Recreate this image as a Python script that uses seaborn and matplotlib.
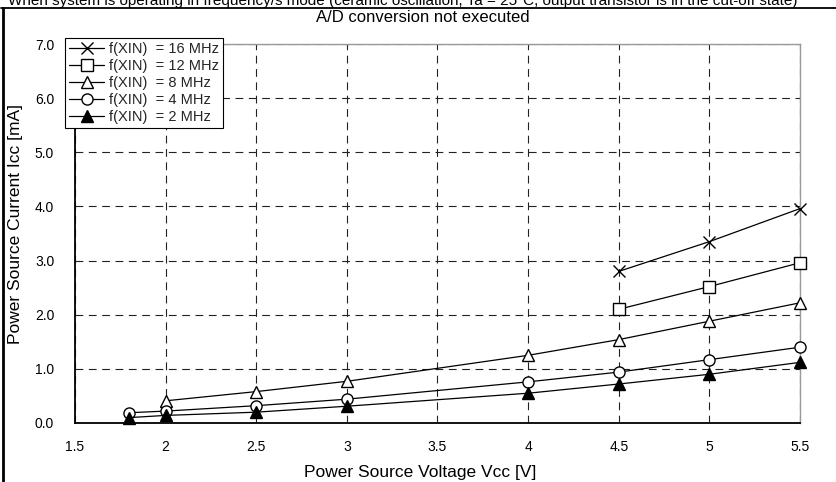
import matplotlib
matplotlib.use("Agg")
import matplotlib.pyplot as plt
import seaborn as sns
import pandas as pd
from matplotlib.lines import Line2D

# ---- data ----
vcc_16 = [4.5, 5.0, 5.5]
icc_16 = [2.80, 3.35, 3.96]
vcc_12 = [4.5, 5.0, 5.5]
icc_12 = [2.10, 2.52, 2.96]
vcc_8 = [2.0, 2.5, 3.0, 4.0, 4.5, 5.0, 5.5]
icc_8 = [0.41, 0.58, 0.77, 1.25, 1.54, 1.88, 2.22]
vcc_4 = [1.8, 2.0, 2.5, 3.0, 4.0, 4.5, 5.0, 5.5]
icc_4 = [0.19, 0.22, 0.32, 0.44, 0.76, 0.94, 1.17, 1.40]
vcc_2 = [1.8, 2.0, 2.5, 3.0, 4.0, 4.5, 5.0, 5.5]
icc_2 = [0.10, 0.14, 0.20, 0.31, 0.55, 0.72, 0.90, 1.12]
labels = ["f(XIN)  = 16 MHz", "f(XIN)  = 12 MHz", "f(XIN)  = 8 MHz",
          "f(XIN)  = 4 MHz", "f(XIN)  = 2 MHz"]
xticks = [1.5, 2, 2.5, 3, 3.5, 4, 4.5, 5, 5.5]
xticklabels = ["1.5", "2", "2.5", "3", "3.5", "4", "4.5", "5", "5.5"]
yticks = [0, 1, 2, 3, 4, 5, 6, 7]
yticklabels = ["0.0", "1.0", "2.0", "3.0", "4.0", "5.0", "6.0", "7.0"]

sns.set_theme(style="white")
plt.rcParams['font.family'] = ['Liberation Sans', 'DejaVu Sans']

W, H = 837, 482
fig = plt.figure(figsize=(W / 100, H / 100), dpi=100)
x0, x1, ytop, ybot = 75, 800, 44, 423
ax = fig.add_axes([x0 / W, 1 - ybot / H, (x1 - x0) / W, (ybot - ytop) / H])

series = [
    (vcc_16, icc_16, labels[0], dict(marker='x', mfc='black', ms=8, mew=1.0)),
    (vcc_12, icc_12, labels[1], dict(marker='s', mfc='white', ms=8, mew=1.0)),
    (vcc_8, icc_8, labels[2], dict(marker='^', mfc='white', ms=8.5, mew=1.0)),
    (vcc_4, icc_4, labels[3], dict(marker='o', mfc='white', ms=8, mew=1.0)),
    (vcc_2, icc_2, labels[4], dict(marker='^', mfc='black', ms=8.5, mew=1.0)),
]
handles = []
for xs, ys, lab, mk in series:
    df = pd.DataFrame({"Vcc": xs, "Icc": ys})
    sns.lineplot(data=df, x="Vcc", y="Icc", ax=ax, color='black', lw=0.9,
                 mec='black', zorder=3, clip_on=False, **mk)
    handles.append(Line2D([], [], color='black', lw=0.9, mec='black', **mk))

ax.set_xlim(1.5, 5.5)
ax.set_ylim(0, 7)
ax.set_xticks(xticks)
ax.set_xticklabels(xticklabels)
ax.set_yticks(yticks)
ax.set_yticklabels(yticklabels)
ax.tick_params(axis='both', length=0, labelsize=10, colors='black')
ax.tick_params(axis='x', pad=12)
ax.tick_params(axis='y', pad=15)
ax.grid(True, color='#222222', linestyle=(0, (7, 5)), linewidth=0.8)
ax.set_axisbelow(True)
for s in ['left', 'bottom']:
    ax.spines[s].set_color('black')
    ax.spines[s].set_linewidth(1.3)
for s in ['top', 'right']:
    ax.spines[s].set_color('#999999')
    ax.spines[s].set_linewidth(1.0)

ax.set_xlabel("Power Source Voltage Vcc [V]", fontsize=12.5, color='black')
ax.set_ylabel("Power Source Current Icc [mA]", fontsize=12.5, color='black')
ax.xaxis.label.set_va('center')
ax.xaxis.label.set_ha('center')
ax.yaxis.label.set_va('center')
ax.yaxis.label.set_ha('center')
ax.xaxis.set_label_coords((420 - x0) / (x1 - x0), (ybot - 472) / (ybot - ytop))
ax.yaxis.set_label_coords((16 - x0) / (x1 - x0), (ybot - 224) / (ybot - ytop))

leg = fig.legend(handles, labels, loc='upper left',
                 bbox_to_anchor=(65 / W, 1 - 38 / H), bbox_transform=fig.transFigure,
                 fontsize=10.5, frameon=True, fancybox=False, borderaxespad=0,
                 handlelength=2.4, handletextpad=0.3, labelspacing=0.2,
                 borderpad=0.3)
leg.get_frame().set_edgecolor('black')
leg.get_frame().set_linewidth(0.8)
leg.get_frame().set_facecolor('white')
leg.get_frame().set_alpha(1)

# header texts
fig.text(8 / W, 1 - 5 / H,
         "When system is operating in frequency/s mode (ceramic oscillation, Ta = 25°C, output transistor is in the cut-off state)",
         ha='left', va='baseline', fontsize=11, color='black')
fig.text(423 / W, 1 - 18 / H, "A/D conversion not executed",
         ha='center', va='center', fontsize=12, color='black')

# outer frame
fig.add_artist(Line2D([2.5 / W, 2.5 / W], [0, 1 - 7.5 / H], transform=fig.transFigure,
                      color='black', lw=2.0))
fig.add_artist(Line2D([1.5 / W, 1], [1 - 7.5 / H, 1 - 7.5 / H], transform=fig.transFigure,
                      color='black', lw=1.3))

fig.savefig("out.png", dpi=100)
